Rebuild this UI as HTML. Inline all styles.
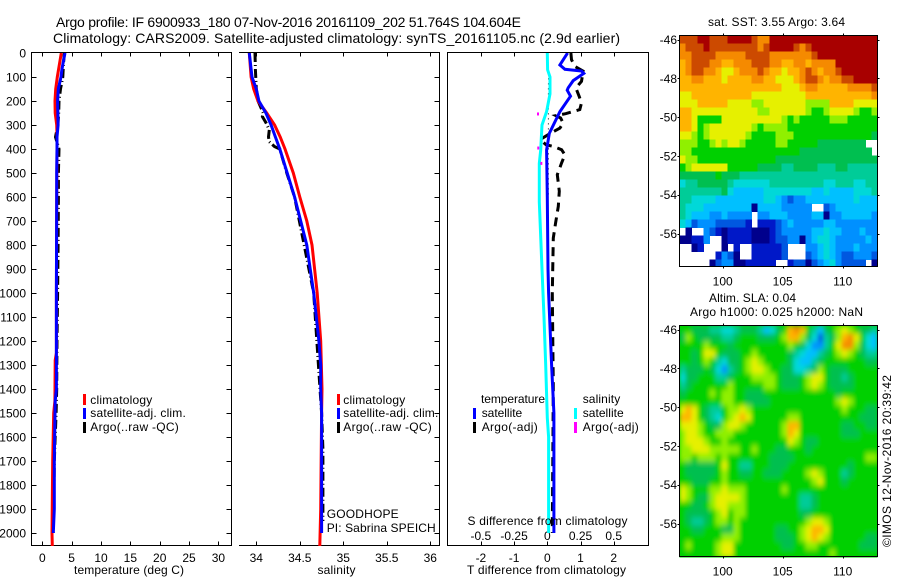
<!DOCTYPE html>
<html lang="en">
<head>
<meta charset="utf-8">
<title>Argo profile 6900933_180</title>
<style>
html,body{margin:0;padding:0;background:#fff;}
svg{display:block;}
text{font-family:"Liberation Sans",sans-serif;font-size:12px;fill:#000;}
.frame{fill:none;stroke:#000;stroke-width:1;shape-rendering:crispEdges;}
</style>
</head>
<body>
<svg id="figure" xmlns="http://www.w3.org/2000/svg" width="900" height="580" viewBox="0 0 900 580">
  <defs>
    <clipPath id="clip-t"><rect x="32" y="53" width="199" height="493"/></clipPath>
    <clipPath id="clip-s"><rect x="239" y="53" width="200" height="493"/></clipPath>
    <clipPath id="clip-d"><rect x="448" y="53" width="200" height="493"/></clipPath>
    <clipPath id="clip-sst"><rect x="679.5" y="35.5" width="198" height="231"/></clipPath>
    <clipPath id="clip-sla"><rect x="679.5" y="325.5" width="198" height="231"/></clipPath>
    <filter id="soften" x="-10%" y="-10%" width="120%" height="120%"><feGaussianBlur stdDeviation="2.2 2.8"/></filter>
  </defs>

  <text x="56" y="27" style="font-size:14px" textLength="465" lengthAdjust="spacing">Argo profile: IF 6900933_180 07-Nov-2016 20161109_202 51.764S 104.604E</text>
  <text x="53" y="43" style="font-size:14px" textLength="567" lengthAdjust="spacing">Climatology: CARS2009. Satellite-adjusted climatology: synTS_20161105.nc (2.9d earlier)</text>
  <text x="708" y="26" textLength="137" lengthAdjust="spacing">sat. SST: 3.55 Argo: 3.64</text>
  <text x="709" y="302" textLength="87" lengthAdjust="spacing">Altim. SLA: 0.04</text>
  <text x="690" y="316" textLength="173" lengthAdjust="spacing">Argo h1000: 0.025 h2000: NaN</text>
  <text transform="translate(891,547) rotate(-90)" textLength="172" lengthAdjust="spacing">©IMOS 12-Nov-2016 20:39:42</text>

  <g id="panel-t"></g>
  <g id="panel-s"></g>
  <g id="panel-d"></g>

  <text x="74" y="574" textLength="110" lengthAdjust="spacing">temperature (deg C)</text>
  <text x="317.5" y="574" textLength="38" lengthAdjust="spacing">salinity</text>
  <text x="467" y="574" textLength="159" lengthAdjust="spacing">T difference from climatology</text>
  <text x="467.5" y="525" textLength="160" lengthAdjust="spacing">S difference from climatology</text>

  <g>
    <rect x="83" y="394" width="3" height="11" fill="#f00"/>
    <text x="90.3" y="404" textLength="62" lengthAdjust="spacing">climatology</text>
    <rect x="83" y="408" width="3" height="11" fill="#00f"/>
    <text x="90.3" y="417" textLength="95.5" lengthAdjust="spacing">satellite-adj. clim.</text>
    <rect x="83" y="422" width="3" height="11" fill="#000"/>
    <text x="90.3" y="431" textLength="88.5" lengthAdjust="spacing">Argo(..raw -QC)</text>
  </g>
  <g>
    <rect x="337" y="394" width="3" height="11" fill="#f00"/>
    <text x="343.3" y="404" textLength="62" lengthAdjust="spacing">climatology</text>
    <rect x="337" y="408" width="3" height="11" fill="#00f"/>
    <text x="343.3" y="417" textLength="95" lengthAdjust="spacing">satellite-adj. clim.</text>
    <rect x="337" y="422" width="3" height="11" fill="#000"/>
    <text x="343.3" y="431" textLength="88.5" lengthAdjust="spacing">Argo(..raw -QC)</text>
  </g>
  <text x="326.7" y="518" textLength="72" lengthAdjust="spacing">GOODHOPE</text>
  <text x="326.7" y="532" textLength="109" lengthAdjust="spacing">PI: Sabrina SPEICH</text>
  <g>
    <text x="481" y="403" textLength="64" lengthAdjust="spacing">temperature</text>
    <rect x="473" y="408" width="3" height="11" fill="#00f"/>
    <text x="481.7" y="417" textLength="40.5" lengthAdjust="spacing">satellite</text>
    <rect x="473" y="422" width="3" height="11" fill="#000"/>
    <text x="481.7" y="431" textLength="56" lengthAdjust="spacing">Argo(-adj)</text>
    <text x="582.7" y="403" textLength="37.5" lengthAdjust="spacing">salinity</text>
    <rect x="574" y="408" width="3" height="11" fill="#0ff"/>
    <text x="582.7" y="417" textLength="41" lengthAdjust="spacing">satellite</text>
    <rect x="574" y="422" width="3" height="11" fill="#f0f"/>
    <text x="582.7" y="431" textLength="56" lengthAdjust="spacing">Argo(-adj)</text>
  </g>

  <g id="map-sst"></g>
  <g id="map-sla"></g>
</svg>

<script>
// ---- shared tick labels ----
const depthTicks = [0,100,200,300,400,500,600,700,800,900,1000,1100,1200,1300,1400,1500,1600,1700,1800,1900,2000];
const tempTicks = [0,5,10,15,20,25,30];
const salTicks = ["34","34.5","35","35.5","36"];
const tDiffTicks = [-2,-1,0,1,2];
const sDiffTicks = ["-0.5","-0.25","0","0.25","0.5"];
const latTicks = [-46,-48,-50,-52,-54,-56];
const lonTicks = [100,105,110];

// ---- temperature profile panel ----
const tempClimDepth = [0,50,100,150,200,250,300,340,400,600,1000,1250,1280,1450,1500,1700,2000,2054];
const tempClimValue = [3.24,2.9,2.56,2.28,2.16,2.2,2.45,2.5,2.5,2.45,2.4,2.4,2.2,2.15,1.94,1.77,1.65,1.7];
const tempSatDepth = [0,50,75,100,150,200,300,350,400,500,600,1000,1400,1450,1700,1900,2000];
const tempSatValue = [3.87,3.47,3.3,3.19,2.73,2.6,2.7,2.5,2.5,2.45,2.45,2.4,2.4,2.2,2.05,2.05,1.88];
const tempArgoDepth = [0,50,100,150,200,250,300,350,400,500,600,800,1000,1200,1400,1500,1700,1900,2000];
const tempArgoValue = [3.75,3.6,3.5,3.1,2.85,2.8,2.65,2.25,2.85,2.75,2.75,2.7,2.6,2.5,2.45,2.35,2.05,1.95,1.85];

// ---- salinity profile panel ----
const salClimDepth = [0,100,150,200,250,300,350,400,500,600,700,800,900,1000,1200,1400,1500,1900,2054];
const salClimValue = [33.92,33.94,33.97,34.02,34.12,34.21,34.275,34.33,34.425,34.5,34.58,34.64,34.67,34.7,34.74,34.755,34.75,34.74,34.73];
const salSatDepth = [0,100,150,200,250,300,350,400,500,600,700,800,900,1000,1100,1200,1300,1400,1500,2000];
const salSatValue = [33.92,33.95,34,34.03,34.11,34.17,34.22,34.27,34.355,34.44,34.51,34.58,34.62,34.66,34.69,34.72,34.74,34.74,34.75,34.75];
const salArgoDepth = [0,70,150,200,250,265,290,320,350,370,390,400,500,600,1000,1500,1650,1950];
const salArgoValue = [33.985,33.99,34,34.02,34.08,34.07,34.11,34.15,34.14,34.15,34.21,34.27,34.35,34.44,34.66,34.75,34.765,34.765];

// ---- difference panel ----
const tDiffSatDepth = [0,50,68,75,85,115,145,155,180,244,335,404,600,900,1000,1300,1500,2000];
const tDiffSatValue = [0.61,0.38,0.53,1.03,1.1,0.78,0.63,0.6,0.7,0.38,0.06,-0.02,0,0.02,0.04,0.13,0.2,0.2];
const tDiffArgoDepth = [0,28,56,76,118,146,181,208,236,253,261,271,292,313,336,361,382,389,403,424,458,507,576,639,708,771,1000,1400,2000];
const tDiffArgoValue = [0.71,0.73,0.83,1.08,1.03,0.86,0.96,1.03,0.98,0.55,0.26,0.4,0.48,0.38,0.08,-0.22,-0.04,0.18,0.43,0.53,0.43,0.3,0.36,0.33,0.25,0.18,0.15,0.18,0.15];
const sDiffSatDepth = [0,70,100,170,244,300,404,460,620,900,1100,1300,1520,1600,2000];
const sDiffSatValue = [0,0.002,0.02,0.02,-0.005,-0.04,-0.05,-0.06,-0.06,-0.04,-0.025,-0.012,0,0.01,0.01];
const sDiffArgoDepth = [254,396,460];
const sDiffArgoValue = [-0.07,-0.068,-0.045];
const sArgoDotDepth = [85,140,190,250,300,410,470,530,590];
const sArgoDotValue = [0.01,0.008,0.008,0.008,0.008,0.008,0.008,0.008,0.008];

// ---- colour levels for the two maps, low to high ----
const levelColors = ["#00008c","#0018c8","#0058e0","#0090ff","#00c0ff","#00d8d8","#00cc98","#00bf50","#00d000","#90f000","#e6f000","#ffb400","#f58a00","#cc4a00","#a80000"];
const mapMissing = -1;

// ---- satellite SST map: rows north to south, columns west to east (-1 = no data) ----
const sstLevels = [
[13,13,13,14,14,13,13,13,14,14,14,14,13,12,12,14,14,14,14,14,14,14,14,14,14,14,14,14,14,14,14,14,14],
[12,13,13,13,14,13,13,13,13,13,13,13,13,12,13,14,14,14,14,13,12,13,14,14,14,14,14,14,14,14,14,14,14],
[12,12,13,13,13,13,12,12,12,12,12,13,13,13,13,12,12,12,12,12,12,12,13,14,14,14,14,14,14,14,14,14,14],
[11,12,13,13,13,12,12,11,11,12,12,12,13,13,13,12,12,11,11,12,12,11,12,12,12,12,14,14,14,14,14,14,14],
[11,12,13,13,12,12,11,10,10,11,12,12,12,13,12,11,11,10,11,11,12,13,12,11,12,12,13,14,14,14,14,14,14],
[11,11,12,12,11,11,11,10,11,11,11,11,12,12,11,11,10,10,10,11,12,13,13,12,11,12,12,13,13,14,14,14,14],
[11,11,11,11,11,11,11,11,11,11,11,11,11,11,11,11,11,10,10,10,11,12,12,11,11,11,11,11,12,12,12,12,13],
[10,10,11,11,11,11,11,11,11,11,11,11,10,10,10,10,10,10,10,10,10,11,11,11,11,11,11,11,11,11,11,11,12],
[10,10,10,11,11,11,11,11,10,10,10,10,9,9,10,10,10,10,10,10,10,9,9,9,9,11,11,11,11,10,10,10,10],
[11,11,10,10,10,10,10,10,10,10,10,10,10,9,9,10,10,10,10,10,10,9,8,8,9,10,10,10,10,9,8,8,9],
[11,11,10,8,8,8,8,10,10,10,10,10,10,10,10,10,10,9,8,9,8,8,8,8,8,9,9,9,8,8,8,8,8],
[11,11,10,8,9,10,10,10,10,10,10,10,9,8,9,9,9,9,8,8,8,8,8,8,8,8,8,8,8,8,8,8,8],
[10,10,9,8,9,10,10,10,10,10,10,9,8,8,8,8,9,9,9,8,8,8,8,8,8,8,8,8,8,8,8,8,7],
[9,9,9,8,8,9,10,9,10,10,9,8,8,8,8,8,9,9,8,8,8,8,8,7,7,7,7,7,7,7,7,-1,-1],
[9,9,8,8,8,8,8,8,8,8,8,8,8,8,8,8,8,8,8,8,7,7,7,7,7,7,7,7,7,7,7,7,-1],
[10,9,9,8,8,8,8,8,8,8,8,8,8,8,8,8,7,7,7,7,7,7,7,7,7,7,7,7,7,7,7,7,7],
[8,9,10,10,10,10,10,10,8,8,8,8,8,7,7,7,7,6,6,7,7,7,7,6,6,6,7,7,6,6,6,6,6],
[7,7,7,7,7,7,8,7,7,7,6,6,6,6,6,6,6,6,6,6,6,6,6,6,6,6,6,6,6,6,6,6,6],
[5,6,6,7,7,7,7,7,6,5,5,5,5,5,5,6,6,6,6,6,6,6,6,6,5,5,6,6,6,5,5,6,6],
[6,6,6,6,6,6,6,7,5,4,4,4,4,4,5,5,5,5,5,5,5,5,4,4,5,4,4,4,4,5,5,5,6],
[6,6,5,5,5,5,4,4,4,4,4,4,4,4,5,5,4,3,2,3,3,4,4,4,4,4,4,4,4,5,4,4,4],
[6,5,5,5,4,4,4,4,4,4,4,4,0,4,4,4,4,3,3,3,3,3,-1,-1,2,3,4,4,4,4,4,4,4],
[6,5,4,4,4,3,3,4,3,3,3,3,-1,3,3,4,4,4,3,3,3,3,4,4,0,3,3,4,4,4,4,4,3],
[5,4,2,3,3,3,2,2,2,2,2,1,-1,1,1,1,2,3,4,3,3,3,3,3,4,4,3,3,3,3,3,3,3],
[-1,0,-1,-1,3,2,1,0,1,1,1,1,0,0,0,1,2,3,3,3,3,3,4,4,5,4,4,3,3,3,4,3,3],
[0,0,1,1,3,-1,-1,0,1,1,1,1,0,0,0,1,2,2,3,3,0,3,4,5,5,4,3,3,3,3,3,4,3],
[-1,-1,0,1,-1,-1,-1,0,-1,1,-1,-1,1,1,1,1,1,2,-1,-1,-1,3,3,4,5,4,3,3,3,4,3,3,3],
[-1,-1,-1,-1,-1,-1,1,3,2,0,-1,-1,1,1,1,1,1,2,-1,-1,-1,2,3,4,5,4,3,2,2,3,3,3,2],
[-1,-1,-1,-1,-1,0,2,3,3,0,0,1,1,1,1,1,-1,-1,1,2,2,0,2,3,4,5,3,2,2,2,2,-1,0]
];

// ---- altimeter SLA map: rows north to south, columns west to east ----
const slaLevels = [
[8,8,7,7,7,6,6,5,5,6,7,7,7,6,4,5,7,8,11,12,11,8,6,4,7,8,9,10,9,8,7,7,6],
[7,9,8,7,7,7,7,6,6,7,8,8,8,7,7,7,8,9,11,11,9,7,5,2,6,7,9,11,12,10,8,5,4],
[8,8,8,8,9,8,8,8,7,8,8,8,8,8,8,8,8,8,9,8,7,5,3,3,6,8,10,12,12,9,7,5,4],
[8,8,7,8,10,10,8,7,7,7,8,8,9,8,8,8,8,8,7,6,5,4,4,6,7,8,9,10,9,8,7,6,6],
[8,8,7,8,9,8,6,5,7,7,8,9,10,9,8,8,8,8,7,5,4,4,6,7,8,8,8,8,8,8,8,7,7],
[6,7,7,7,8,7,5,3,6,7,8,9,10,10,9,8,8,7,7,5,5,6,7,9,8,7,7,7,8,8,8,8,8],
[5,7,7,8,8,8,6,6,7,8,8,8,9,9,9,9,8,7,7,7,8,9,10,10,8,7,7,6,7,8,8,8,8],
[6,7,8,8,8,8,8,8,9,8,8,8,8,8,9,9,8,7,7,7,8,9,10,9,8,7,7,7,7,8,8,8,8],
[7,8,8,8,8,9,8,9,9,8,8,7,7,7,8,8,8,8,8,8,8,8,8,8,8,8,7,8,8,8,8,8,8],
[8,8,8,8,8,8,8,9,9,8,8,7,7,7,7,8,8,8,8,8,8,8,8,8,8,8,9,10,9,8,8,8,8],
[10,11,10,8,7,6,6,8,9,9,10,9,8,8,8,8,8,8,8,8,8,8,8,8,8,8,8,9,8,8,8,7,7],
[11,11,10,8,7,6,5,8,9,10,11,10,8,8,8,8,8,8,9,9,8,8,8,8,8,8,8,8,8,8,7,7,7],
[10,10,10,9,8,7,7,9,10,10,9,8,8,8,8,8,8,9,11,11,8,8,8,8,8,8,8,7,7,8,8,7,7],
[9,10,10,9,8,8,9,9,9,8,8,8,8,8,8,8,8,9,11,10,8,8,8,8,8,8,8,7,7,7,8,8,8],
[9,10,10,10,9,8,8,9,8,8,8,8,8,8,8,8,8,8,10,9,8,7,7,8,8,8,8,8,8,8,8,8,8],
[9,9,10,10,10,9,9,9,9,9,8,8,9,8,8,8,7,7,8,8,8,7,8,8,8,8,8,8,8,8,8,8,8],
[9,9,8,9,9,9,8,9,8,8,8,8,8,8,8,7,7,7,7,8,8,8,8,8,8,8,8,8,8,8,8,9,9],
[8,7,7,7,7,7,8,10,8,8,6,6,8,8,8,7,7,7,8,8,8,8,8,8,8,8,8,8,7,8,8,8,8],
[8,7,7,7,7,7,8,9,8,8,7,7,8,8,7,7,7,8,8,8,8,9,10,9,8,8,8,6,7,8,8,8,8],
[8,8,7,7,7,8,8,9,8,8,8,8,8,8,8,8,8,8,8,8,8,8,9,10,8,8,8,7,8,8,8,8,8],
[10,9,8,8,8,9,9,10,9,9,9,8,8,8,8,8,8,9,8,8,8,8,8,8,8,8,8,8,8,8,8,8,8],
[10,9,8,7,7,9,10,10,10,10,9,8,8,8,8,8,8,8,8,8,6,6,7,8,8,8,8,8,8,8,8,8,8],
[8,8,7,7,8,9,10,10,9,9,9,8,8,8,8,8,8,8,8,8,6,6,7,8,8,8,8,8,8,8,8,8,8],
[8,7,7,7,7,8,9,10,8,9,9,8,8,8,8,8,8,8,8,8,7,7,8,8,8,8,8,8,8,8,8,8,8],
[8,7,6,6,7,8,9,9,8,9,8,8,8,8,8,8,8,8,8,8,8,9,10,10,9,8,8,8,8,8,8,8,8],
[8,8,7,7,8,8,8,7,7,9,8,8,8,8,8,8,7,7,8,8,9,10,11,11,10,8,8,8,8,8,8,8,8],
[8,8,8,8,8,8,8,9,9,9,8,8,8,8,8,8,7,7,7,8,9,10,11,10,9,8,8,8,8,8,8,7,7],
[8,9,8,8,8,8,9,10,10,8,8,8,8,8,8,8,8,7,7,8,8,9,9,8,8,8,8,8,8,8,7,7,7],
[8,8,8,8,8,8,9,10,10,8,8,8,8,8,8,8,8,8,8,8,8,8,8,8,8,9,8,8,8,8,8,8,8]
];

// ---- axis functions ----
function yDepth(d){ return 53 + d * 0.24; }
function xTemp(t){ return 42.3 + t * 5.87; }
function xSal(s){ return 256.3 + (s - 34) * 87; }
function xTDiff(t){ return 547.3 + t * 33.2; }
function xSDiff(s){ return 547.3 + s * 132.8; }
function xLon(lon){ return 722.7 + (lon - 100) * 12; }
function yLatTop(lat){ return 39.5 + (-46 - lat) * 19.4; }
function yLatBottom(lat){ return 329.5 + (-46 - lat) * 19.4; }

// ---- drawing helpers ----
const NS = "http://www.w3.org/2000/svg";
function make(tag, attrs, parent){
  const el = document.createElementNS(NS, tag);
  for (const k in attrs) el.setAttribute(k, attrs[k]);
  parent.appendChild(el);
  return el;
}
function profile(parent, depths, values, xFn, color, width, dash, clip, name){
  let pts = "";
  for (let i = 0; i < depths.length; i++) pts += xFn(values[i]).toFixed(1) + "," + yDepth(depths[i]).toFixed(1) + " ";
  const attrs = {points: pts, fill: "none", stroke: color, "stroke-width": width, "clip-path": "url(#" + clip + ")"};
  if (dash) attrs["stroke-dasharray"] = dash;
  const el = make("polyline", attrs, parent);
  
  
}
function tick(parent, x1, y1, x2, y2){
  const el = make("line", {x1: x1, y1: y1, x2: x2, y2: y2, stroke: "#000", "stroke-width": 1, "shape-rendering": "crispEdges"}, parent);
  
  
}
function label(parent, txt, x, y, anchor){
  const el = make("text", {x: x, y: y, "text-anchor": anchor}, parent);
  el.textContent = txt;
  
  
}
function frame(parent, d){
  const el = make("path", {d: d, "class": "frame"}, parent);
  
  
}

const TOP = 52.5, BOTTOM = 545.5;

// ---- temperature panel ----
const pT = document.getElementById("panel-t");
frame(pT, "M31.5 " + TOP + "H231.5V" + BOTTOM + "H31.5Z");
depthTicks.forEach(function(d){
  const y = Math.round(yDepth(d)) + 0.5;
  if (d > 0) { tick(pT, 31.5, y, 36.5, y); tick(pT, 226.5, y, 231.5, y); }
  label(pT, String(d), 26, yDepth(d) + 4.5, "end");
});
tempTicks.forEach(function(t){
  const x = Math.round(xTemp(t)) + 0.5;
  tick(pT, x, TOP, x, TOP + 4);
  tick(pT, x, BOTTOM - 4, x, BOTTOM);
  label(pT, String(t), xTemp(t), 562, "middle");
});
profile(pT, tempArgoDepth, tempArgoValue, xTemp, "#000", 3, "9 3 1 3", "clip-t", "argo-temperature-line");
profile(pT, tempClimDepth, tempClimValue, xTemp, "#f00", 3, null, "clip-t", "climatology-temperature-line");
profile(pT, tempSatDepth, tempSatValue, xTemp, "#00f", 3, null, "clip-t", "satellite-temperature-line");

// ---- salinity panel (no left axis line in the original) ----
const pS = document.getElementById("panel-s");
frame(pS, "M239 " + TOP + "H439.5V" + BOTTOM + "H239");
depthTicks.forEach(function(d){
  if (d > 0) { const y = Math.round(yDepth(d)) + 0.5; tick(pS, 434.5, y, 439.5, y); }
});
salTicks.forEach(function(s){
  const x = Math.round(xSal(parseFloat(s))) + 0.5;
  tick(pS, x, TOP, x, TOP + 4);
  tick(pS, x, BOTTOM - 4, x, BOTTOM);
  label(pS, s, xSal(parseFloat(s)), 562, "middle");
});
profile(pS, salArgoDepth, salArgoValue, xSal, "#000", 3, "9 3 1 3", "clip-s", "argo-salinity-line");
profile(pS, salClimDepth, salClimValue, xSal, "#f00", 3, null, "clip-s", "climatology-salinity-line");
profile(pS, salSatDepth, salSatValue, xSal, "#00f", 3, null, "clip-s", "satellite-salinity-line");

// ---- difference panel ----
const pD = document.getElementById("panel-d");
frame(pD, "M447.5 " + TOP + "H648.5V" + BOTTOM + "H447.5Z");
tDiffTicks.forEach(function(t){
  const x = Math.round(xTDiff(t)) + 0.5;
  tick(pD, x, TOP, x, TOP + 4);
  tick(pD, x, BOTTOM - 4, x, BOTTOM);
  label(pD, String(t), xTDiff(t), 562, "middle");
});
sDiffTicks.forEach(function(s){
  label(pD, s, xSDiff(parseFloat(s)), 540, "middle");
});
profile(pD, tDiffArgoDepth, tDiffArgoValue, xTDiff, "#000", 3, "9 6", "clip-d", "argo-t-difference-line");
profile(pD, sArgoDotDepth, sArgoDotValue, xSDiff, "#000", 1, "1 4", "clip-d", "s-difference-dotted-line");
profile(pD, tDiffSatDepth, tDiffSatValue, xTDiff, "#00f", 3, null, "clip-d", "satellite-t-difference-line");
profile(pD, sDiffSatDepth, sDiffSatValue, xSDiff, "#0ff", 3, null, "clip-d", "satellite-s-difference-line");
sDiffArgoDepth.forEach(function(d, i){
  const el = make("rect", {x: xSDiff(sDiffArgoValue[i]) - 1, y: yDepth(d) - 1.5, width: 2, height: 3, fill: "#f0f"}, pD);
  
  
});

// ---- maps ----
function drawMap(parent, levels, top, clip, yLat, soft){
  const h = 232, w = 198, left = 679.5;
  const rows = levels.length, cols = levels[0].length;
  const cw = w / cols, ch = h / rows;
  const bg = make("rect", {x: left, y: top, width: w, height: h, fill: soft ? levelColors[8] : "#fff"}, parent);
  
  
  const clipG = make("g", {"clip-path": "url(#" + clip + ")"}, parent);
  
  
  const g = make("g", soft ? {filter: "url(#soften)"} : {"shape-rendering": "crispEdges"}, clipG);
  
  
  for (let r = 0; r < rows; r++) {
    for (let c = 0; c < cols; c++) {
      const v = levels[r][c];
      if (v === mapMissing) continue;
      const cell = make("rect", {x: (left + c * cw).toFixed(2), y: (top + r * ch).toFixed(2), width: (cw + 0.4).toFixed(2), height: (ch + 0.4).toFixed(2), fill: levelColors[v]}, g);
      
      
    }
  }
  frame(parent, "M" + left + " " + top + "H" + (left + w) + "V" + (top + h - 1) + "H" + left + "Z");
  latTicks.forEach(function(lat){
    const y = Math.round(yLat(lat)) + 0.5;
    tick(parent, left - 2, y, left, y);
    tick(parent, left + w, y, left + w + 2, y);
    label(parent, String(lat), 677, yLat(lat) + 4.5, "end");
  });
  lonTicks.forEach(function(lon){
    const x = Math.round(xLon(lon)) + 0.5;
    tick(parent, x, top - 2, x, top);
    tick(parent, x, top + h - 1, x, top + h + 1);
    label(parent, String(lon), xLon(lon), top + h + 18, "middle");
  });
}
drawMap(document.getElementById("map-sst"), sstLevels, 35.5, "clip-sst", yLatTop, false);
drawMap(document.getElementById("map-sla"), slaLevels, 325.5, "clip-sla", yLatBottom, true);
</script>
</body>
</html>
